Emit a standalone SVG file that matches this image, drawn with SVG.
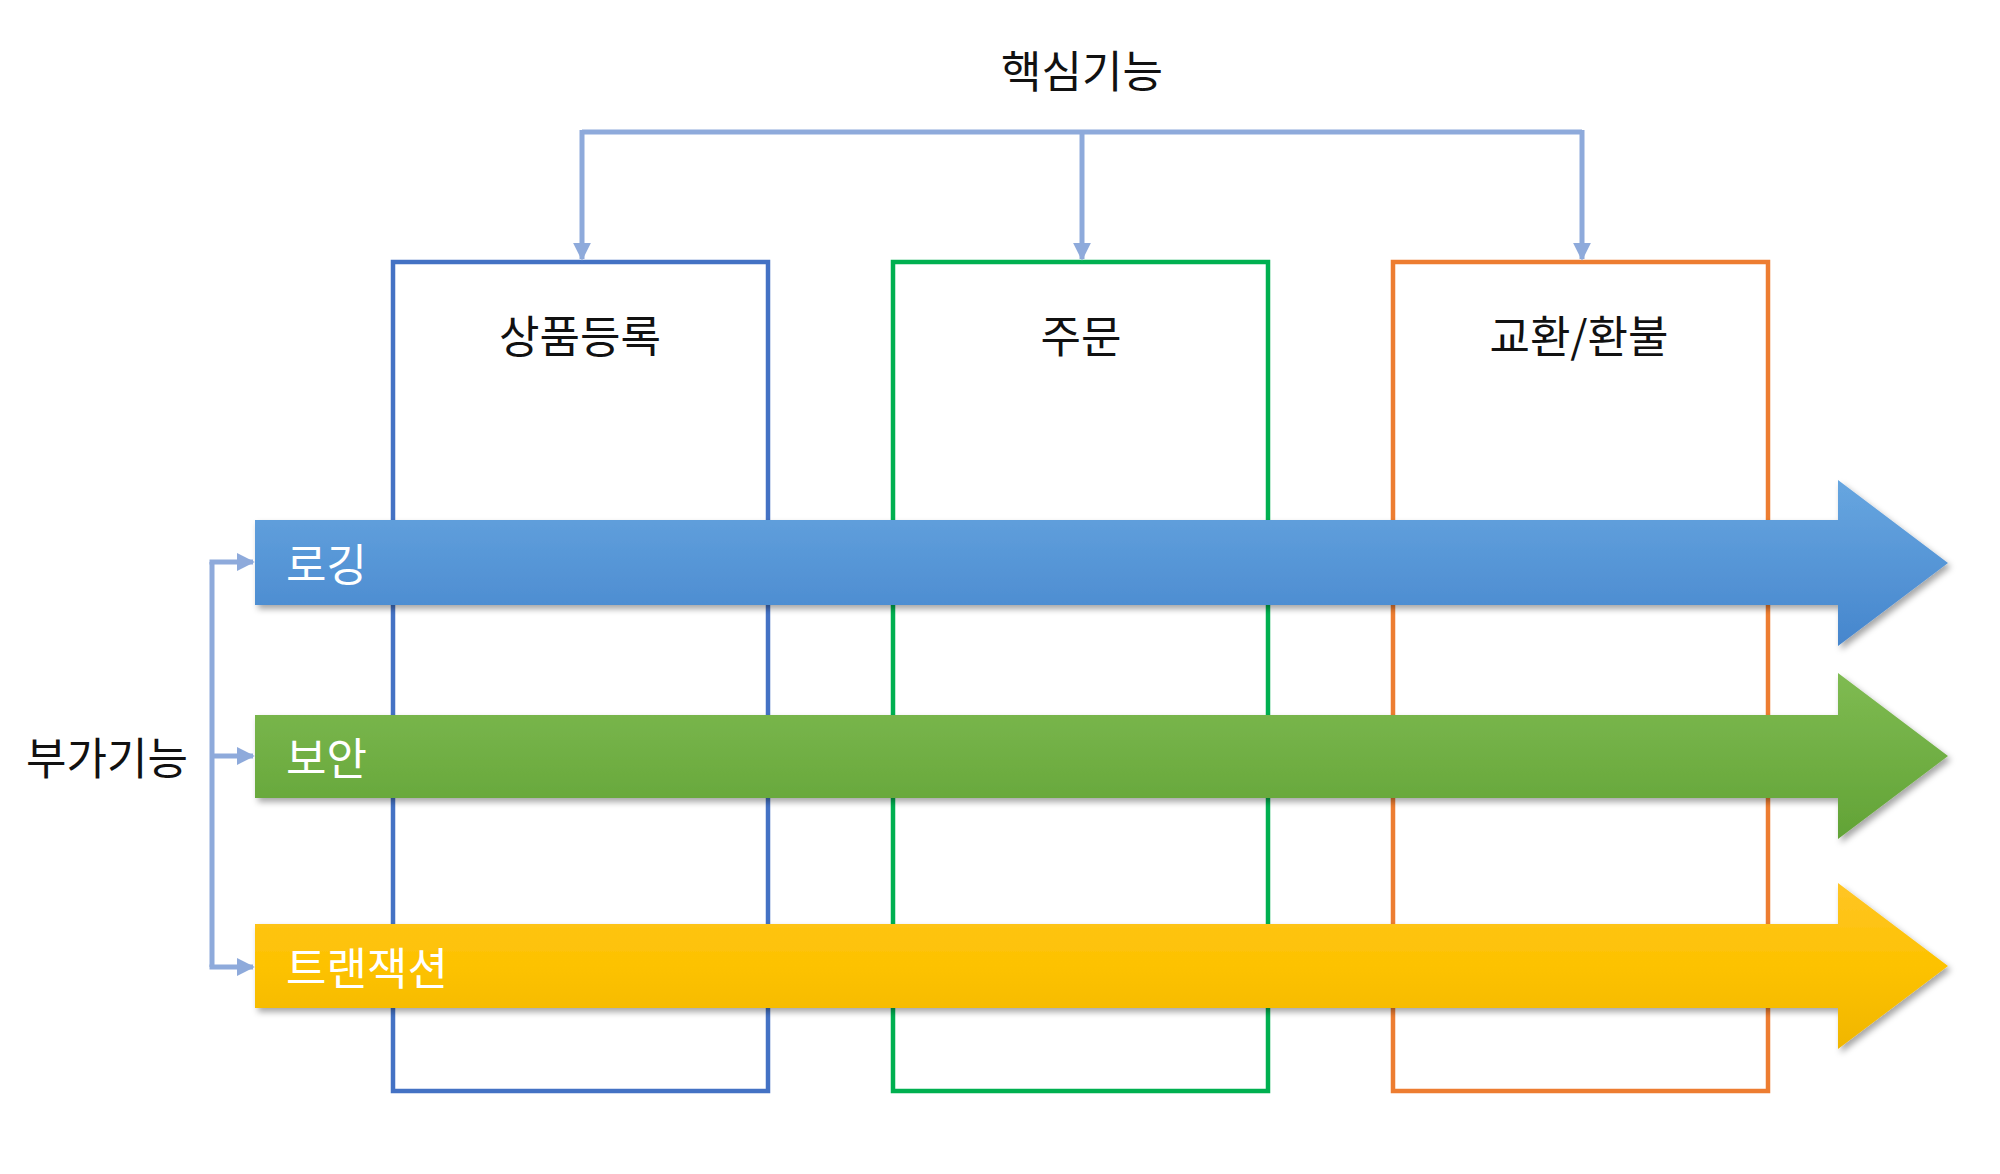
<svg xmlns="http://www.w3.org/2000/svg" width="2000" height="1174" viewBox="0 0 2000 1174">
<style>
.t{font-family:"Malgun Gothic","Noto Sans CJK KR","Noto Sans",sans-serif;font-size:44px;fill:#111;dominant-baseline:central}
.w{font-family:"Malgun Gothic","Noto Sans CJK KR","Noto Sans",sans-serif;font-size:44px;fill:#fff;dominant-baseline:central}
.box{fill:none;stroke-width:4.5}
.con{fill:none;stroke:#8EAADB;stroke-width:5}
</style>
<defs>
<marker id="ah" viewBox="0 0 10 10" refX="9" refY="5" markerWidth="3.6" markerHeight="3.6" markerUnits="strokeWidth" orient="auto">
<path d="M0,0 L10,5 L0,10 Z" fill="#8EAADB"/>
</marker>
<linearGradient id="gb" x1="0" y1="0" x2="0" y2="1"><stop offset="0" stop-color="#67a6e0"/><stop offset="1" stop-color="#4686cd"/></linearGradient>
<linearGradient id="gg" x1="0" y1="0" x2="0" y2="1"><stop offset="0" stop-color="#7fbb52"/><stop offset="1" stop-color="#62a336"/></linearGradient>
<linearGradient id="gy" x1="0" y1="0" x2="0" y2="1"><stop offset="0" stop-color="#ffc526"/><stop offset="0.5" stop-color="#fdc200"/><stop offset="1" stop-color="#f0b600"/></linearGradient>
<filter id="sh" x="-5%" y="-20%" width="110%" height="150%">
<feDropShadow dx="3" dy="4" stdDeviation="3" flood-color="#000" flood-opacity="0.35"/>
</filter>
</defs>
<rect width="2000" height="1174" fill="#fff"/>
<g id="box-product"><rect class="box" x="393" y="262" width="375" height="829" stroke="#4472C4"/><text class="t" x="580" y="334" text-anchor="middle">상품등록</text></g>
<g id="box-order"><rect class="box" x="893" y="262" width="375" height="829" stroke="#00B050"/><text class="t" x="1081" y="334" text-anchor="middle">주문</text></g>
<g id="box-refund"><rect class="box" x="1393" y="262" width="375" height="829" stroke="#ED7D31"/><text class="t" x="1579" y="334" text-anchor="middle">교환/환불</text></g>
<g id="label-core"><text class="t" x="1082" y="69" text-anchor="middle">핵심기능</text></g>
<g id="label-aux"><text class="t" x="107" y="756" text-anchor="middle">부가기능</text></g>
<g id="arrow-logging"><path d="M255,520 H1838 V480 L1948,563 L1838,646 V605 H255 Z" fill="url(#gb)" filter="url(#sh)"/><text class="w" x="286" y="562">로깅</text></g>
<g id="arrow-security"><path d="M255,715 H1838 V673 L1948,756 L1838,839 V798 H255 Z" fill="url(#gg)" filter="url(#sh)"/><text class="w" x="286" y="756">보안</text></g>
<g id="arrow-transaction"><path d="M255,924 H1838 V883 L1948,966 L1838,1049 V1008 H255 Z" fill="url(#gy)" filter="url(#sh)"/><text class="w" x="286" y="966">트랜잭션</text></g>
<g id="connectors">
<path class="con" d="M582,132 H1582"/>
<path class="con" d="M582,130 V259" marker-end="url(#ah)"/>
<path class="con" d="M1082,132 V259" marker-end="url(#ah)"/>
<path class="con" d="M1582,130 V259" marker-end="url(#ah)"/>
<path class="con" d="M212,562 V967"/>
<path class="con" d="M209.5,562 H253" marker-end="url(#ah)"/>
<path class="con" d="M212,756 H253" marker-end="url(#ah)"/>
<path class="con" d="M209.5,967 H253" marker-end="url(#ah)"/>
</g>
</svg>
